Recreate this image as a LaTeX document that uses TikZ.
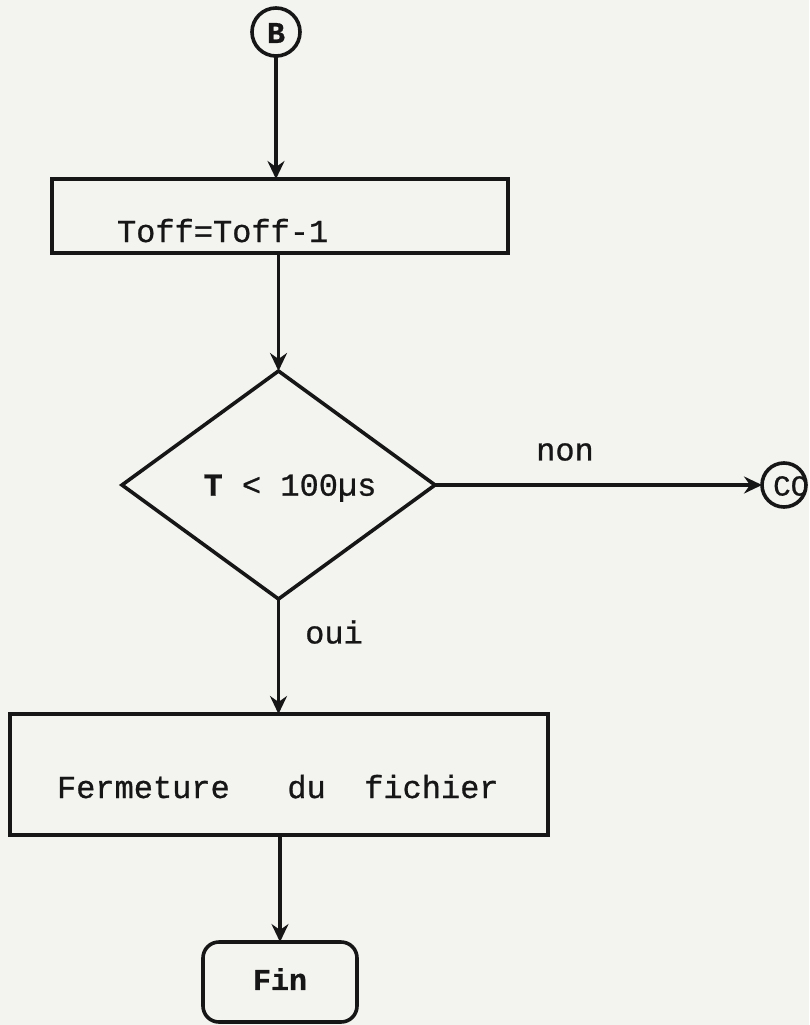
\documentclass[tikz,border=0pt]{standalone}
\usepackage{fontspec}
\setmonofont[FakeBold=0.8]{Liberation Mono}
\usetikzlibrary{shapes.geometric,arrows.meta}
\definecolor{paper}{RGB}{243,243,240}
\definecolor{ink}{RGB}{22,22,22}
\begin{document}
\begin{tikzpicture}[x=1pt,y=-1pt,
  line width=3.6pt,
  every node/.style={font=\ttfamily\fontsize{32}{36}\selectfont, text=ink, inner sep=0pt, outer sep=0pt},
  procbox/.style={draw=ink, rectangle},
  decision/.style={draw=ink, diamond, minimum width=313pt, minimum height=228pt},
  connector/.style={draw=ink, circle, minimum size=#1},
  endbox/.style={draw=ink, rectangle, rounded corners=16pt, minimum width=154pt, minimum height=80pt},
  flow/.style={draw=ink, -{Stealth[length=18pt,width=17pt,inset=6pt]}}]
% page and paper
\useasboundingbox (0,0) rectangle (809,1025);
\fill[paper] (0,0) rectangle (809,1025);
\clip (0,0) rectangle (809,1025);

% entry connector
\node[connector=48pt] (B) at (276,32) {};
\node[font=\ttfamily\bfseries\fontsize{30}{34}\selectfont] (Bt) at (276,33) {B};

% decrement
\node[procbox, minimum width=456pt, minimum height=74pt] (dec) at (280,216) {};
\node[anchor=base west] (dect) at (117,242) {Toff=Toff-1};

% test
\node[decision] (test) at (278.5,485) {};
\node (testt) at (290,488) {{\bfseries T} < 100µs};

% exit connector
\node[connector=44pt] (CC) at (784,485) {};
\node[anchor=east, font=\ttfamily\fontsize{29}{32}\selectfont] (CCt) at (808,486) {CC};
\node (non) at (565,452) {non};

% close file
\node[procbox, minimum width=538pt, minimum height=121pt] (close) at (279,774.5) {};
\node[anchor=base west] (closet) at (57,798) {Fermeture~~~du~~fichier};
\node (oui) at (334,632) {oui};

% end
\node[endbox] (fin) at (280,982) {};
\node[font=\ttfamily\bfseries\fontsize{30}{34}\selectfont] (fint) at (280,979) {Fin};

% flow lines
\draw[flow] (B) -- (B |- dec.north);
\draw[flow] (test.north |- dec.south) -- (test.north);
\draw[flow] (test.south) -- (test.south |- close.north);
\draw[flow] (test.east) -- (CC.west);
\draw[flow] (fin.north |- close.south) -- (fin.north);
\end{tikzpicture}
\end{document}
